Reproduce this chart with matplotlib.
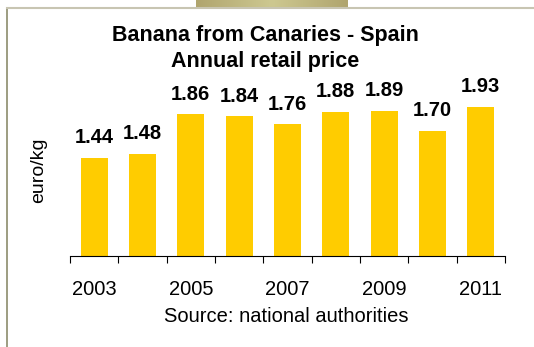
import numpy as np
import matplotlib.pyplot as plt
from matplotlib.lines import Line2D
from matplotlib.colors import LinearSegmentedColormap

# Datos
years = ['2003', '2004', '2005', '2006', '2007', '2008', '2009', '2010', '2011']
prices = [1.44, 1.48, 1.86, 1.84, 1.76, 1.88, 1.89, 1.70, 1.93]
shown_years = ['2003', '', '2005', '', '2007', '', '2009', '', '2011']

plt.rcParams['font.family'] = ['Liberation Sans', 'DejaVu Sans']

fig = plt.figure(figsize=(5.34, 3.47), dpi=100)
fig.patch.set_facecolor('white')

# marco decorativo
fig.add_artist(Line2D([7 / 534, 7 / 534], [0, 1 - 8 / 347], transform=fig.transFigure,
                      color='#8c8c6c', linewidth=1.2))
fig.add_artist(Line2D([7 / 534, 1], [1 - 8 / 347, 1 - 8 / 347], transform=fig.transFigure,
                      color='#c8c5b2', linewidth=1.5))
grad_ax = fig.add_axes([196 / 534, 1 - 8 / 347, (348 - 196) / 534, 8 / 347])
grad = 1 - np.abs(np.linspace(-1, 1, 200))
grad_ax.imshow(grad[np.newaxis, :], aspect='auto',
               cmap=LinearSegmentedColormap.from_list('olive', ['#b0a56e', '#cdc890']))
grad_ax.axis('off')

# ejes principales
ax = fig.add_axes([70 / 534, 91 / 347, 435 / 534, 188 / 347])
x = np.arange(len(years))
ax.bar(x, prices, width=0.56, color='#FFCC00', zorder=2)

for xi, p in zip(x, prices):
    ax.text(xi, p + 0.1, f'{p:.2f}', ha='center', va='bottom',
            fontsize=14.5, fontweight='bold', color='black')

ax.set_xlim(-0.5, len(years) - 0.5)
ax.set_ylim(0.5, 2.3)

ax.set_xticks(np.arange(-0.5, len(years), 1.0))
ax.set_xticklabels([])
ax.set_xticks(x, minor=True)
ax.set_xticklabels(shown_years, minor=True, fontsize=14.5)
ax.tick_params(axis='x', which='major', length=5, direction='out', color='black')
ax.tick_params(axis='x', which='minor', length=0, pad=17)
ax.set_yticks([])

for side in ['top', 'right', 'left']:
    ax.spines[side].set_visible(False)
ax.spines['bottom'].set_color('black')

fig.text(265 / 534, 1 - 35 / 347, 'Banana from Canaries - Spain', ha='center', va='center',
         fontsize=15.5, fontweight='bold')
fig.text(265 / 534, 1 - 62 / 347, 'Annual retail price', ha='center', va='center',
         fontsize=15.5, fontweight='bold')
fig.text(39 / 534, 1 - 170 / 347, 'euro/kg', ha='center', va='center', rotation=90,
         fontsize=14)
fig.text(286 / 534, 1 - 317 / 347, 'Source: national authorities', ha='center', va='center',
         fontsize=14.5)

fig.savefig('out.png', dpi=100, facecolor='white')
